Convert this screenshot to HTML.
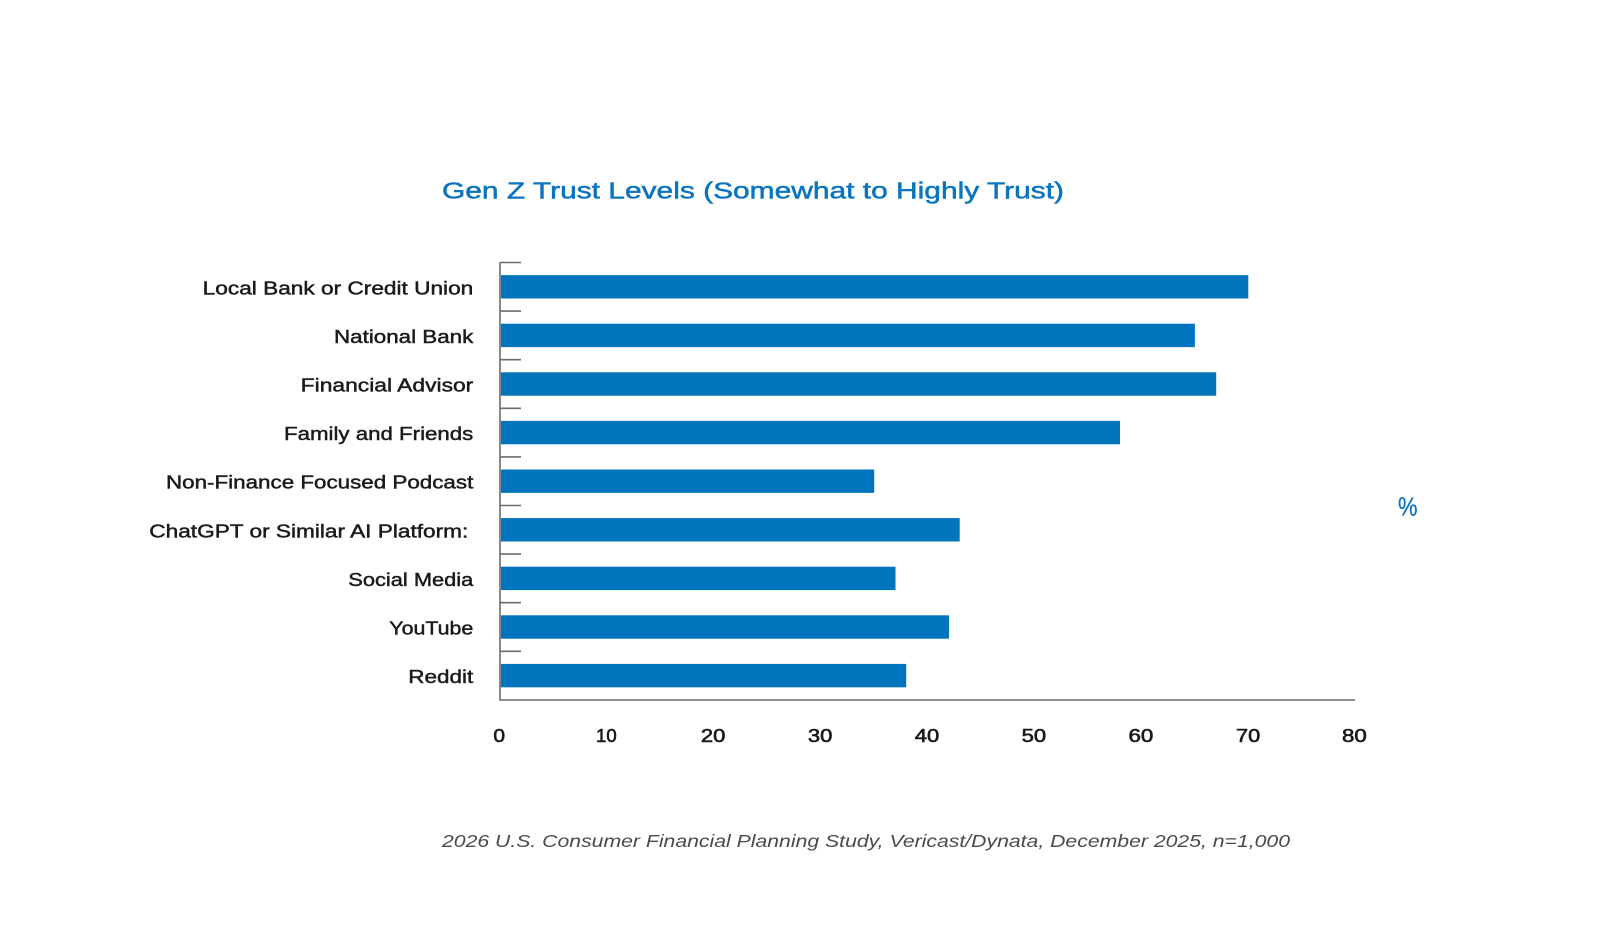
<!DOCTYPE html>
<html>
<head>
<meta charset="utf-8">
<style>
  html, body { margin: 0; padding: 0; background: #ffffff; }
  body { width: 1600px; height: 941px; overflow: hidden; }
  svg { display: block; }
  text { font-family: "Liberation Sans", "DejaVu Sans", sans-serif; }
</style>
</head>
<body>
<svg width="1600" height="941" viewBox="0 0 1600 941" xmlns="http://www.w3.org/2000/svg">
  <rect x="0" y="0" width="1600" height="941" fill="#ffffff"/>

  <!-- Title -->
  <text x="442" y="198.3" font-size="23.5" fill="#0a74bf" stroke="#0a74bf" stroke-width="0.5" textLength="622" lengthAdjust="spacingAndGlyphs">Gen Z Trust Levels (Somewhat to Highly Trust)</text>

  <!-- Bars -->
  <g fill="#0075bd">
    <rect x="501" y="275.1" width="747.3" height="23.4"/>
    <rect x="501" y="323.7" width="693.9" height="23.4"/>
    <rect x="501" y="372.3" width="715.2" height="23.4"/>
    <rect x="501" y="420.9" width="619.0" height="23.4"/>
    <rect x="501" y="469.5" width="373.2" height="23.4"/>
    <rect x="501" y="518.1" width="458.7" height="23.4"/>
    <rect x="501" y="566.7" width="394.5" height="23.4"/>
    <rect x="501" y="615.3" width="448.0" height="23.4"/>
    <rect x="501" y="663.9" width="405.2" height="23.4"/>
  </g>

  <!-- Axes -->
  <g stroke="#6b6b6b" stroke-width="1.6" fill="none">
    <line x1="500" y1="262.5" x2="500" y2="700.5"/>
    <line x1="499.2" y1="700" x2="1355" y2="700"/>
    <line x1="500" y1="262.5" x2="521" y2="262.5"/>
    <line x1="500" y1="311.1" x2="521" y2="311.1"/>
    <line x1="500" y1="359.7" x2="521" y2="359.7"/>
    <line x1="500" y1="408.3" x2="521" y2="408.3"/>
    <line x1="500" y1="456.9" x2="521" y2="456.9"/>
    <line x1="500" y1="505.5" x2="521" y2="505.5"/>
    <line x1="500" y1="554.1" x2="521" y2="554.1"/>
    <line x1="500" y1="602.7" x2="521" y2="602.7"/>
    <line x1="500" y1="651.3" x2="521" y2="651.3"/>
  </g>

  <!-- Category labels -->
  <g font-size="18.5" fill="#1a1a1a" stroke="#1a1a1a" stroke-width="0.45">
    <text x="202.7" y="294.3" textLength="270.6" lengthAdjust="spacingAndGlyphs">Local Bank or Credit Union</text>
    <text x="334" y="342.9" textLength="139.3" lengthAdjust="spacingAndGlyphs">National Bank</text>
    <text x="300.7" y="391.5" textLength="172.6" lengthAdjust="spacingAndGlyphs">Financial Advisor</text>
    <text x="284" y="440.1" textLength="189.3" lengthAdjust="spacingAndGlyphs">Family and Friends</text>
    <text x="166" y="488.7" textLength="307.3" lengthAdjust="spacingAndGlyphs">Non-Finance Focused Podcast</text>
    <text x="149.3" y="537.3" textLength="319" lengthAdjust="spacingAndGlyphs">ChatGPT or Similar AI Platform:</text>
    <text x="348.3" y="585.9" textLength="125" lengthAdjust="spacingAndGlyphs">Social Media</text>
    <text x="389.3" y="634.5" textLength="84" lengthAdjust="spacingAndGlyphs">YouTube</text>
    <text x="408.3" y="683.1" textLength="65" lengthAdjust="spacingAndGlyphs">Reddit</text>
  </g>

  <!-- X tick labels -->
  <g font-size="18" fill="#1a1a1a" stroke="#1a1a1a" stroke-width="0.6">
    <text x="493.4" y="742" textLength="11.7" lengthAdjust="spacingAndGlyphs">0</text>
    <text x="596.0" y="742" textLength="20.7" lengthAdjust="spacingAndGlyphs">10</text>
    <text x="700.9" y="742" textLength="24.5" lengthAdjust="spacingAndGlyphs">20</text>
    <text x="807.9" y="742" textLength="24.5" lengthAdjust="spacingAndGlyphs">30</text>
    <text x="914.8" y="742" textLength="24.5" lengthAdjust="spacingAndGlyphs">40</text>
    <text x="1021.7" y="742" textLength="24.5" lengthAdjust="spacingAndGlyphs">50</text>
    <text x="1128.5" y="742" textLength="24.8" lengthAdjust="spacingAndGlyphs">60</text>
    <text x="1236.0" y="742" textLength="24.2" lengthAdjust="spacingAndGlyphs">70</text>
    <text x="1342.0" y="742" textLength="24.8" lengthAdjust="spacingAndGlyphs">80</text>
  </g>

  <!-- Percent sign -->
  <text x="1398" y="515.5" font-size="25.5" fill="#0a74bf" stroke="#0a74bf" stroke-width="0.3" textLength="19.5" lengthAdjust="spacingAndGlyphs">%</text>

  <!-- Footnote -->
  <text x="442" y="846.8" font-size="17.6" font-style="italic" fill="#4a4a4a" textLength="848" lengthAdjust="spacingAndGlyphs">2026 U.S. Consumer Financial Planning Study, Vericast/Dynata, December 2025, n=1,000</text>
</svg>
</body>
</html>
